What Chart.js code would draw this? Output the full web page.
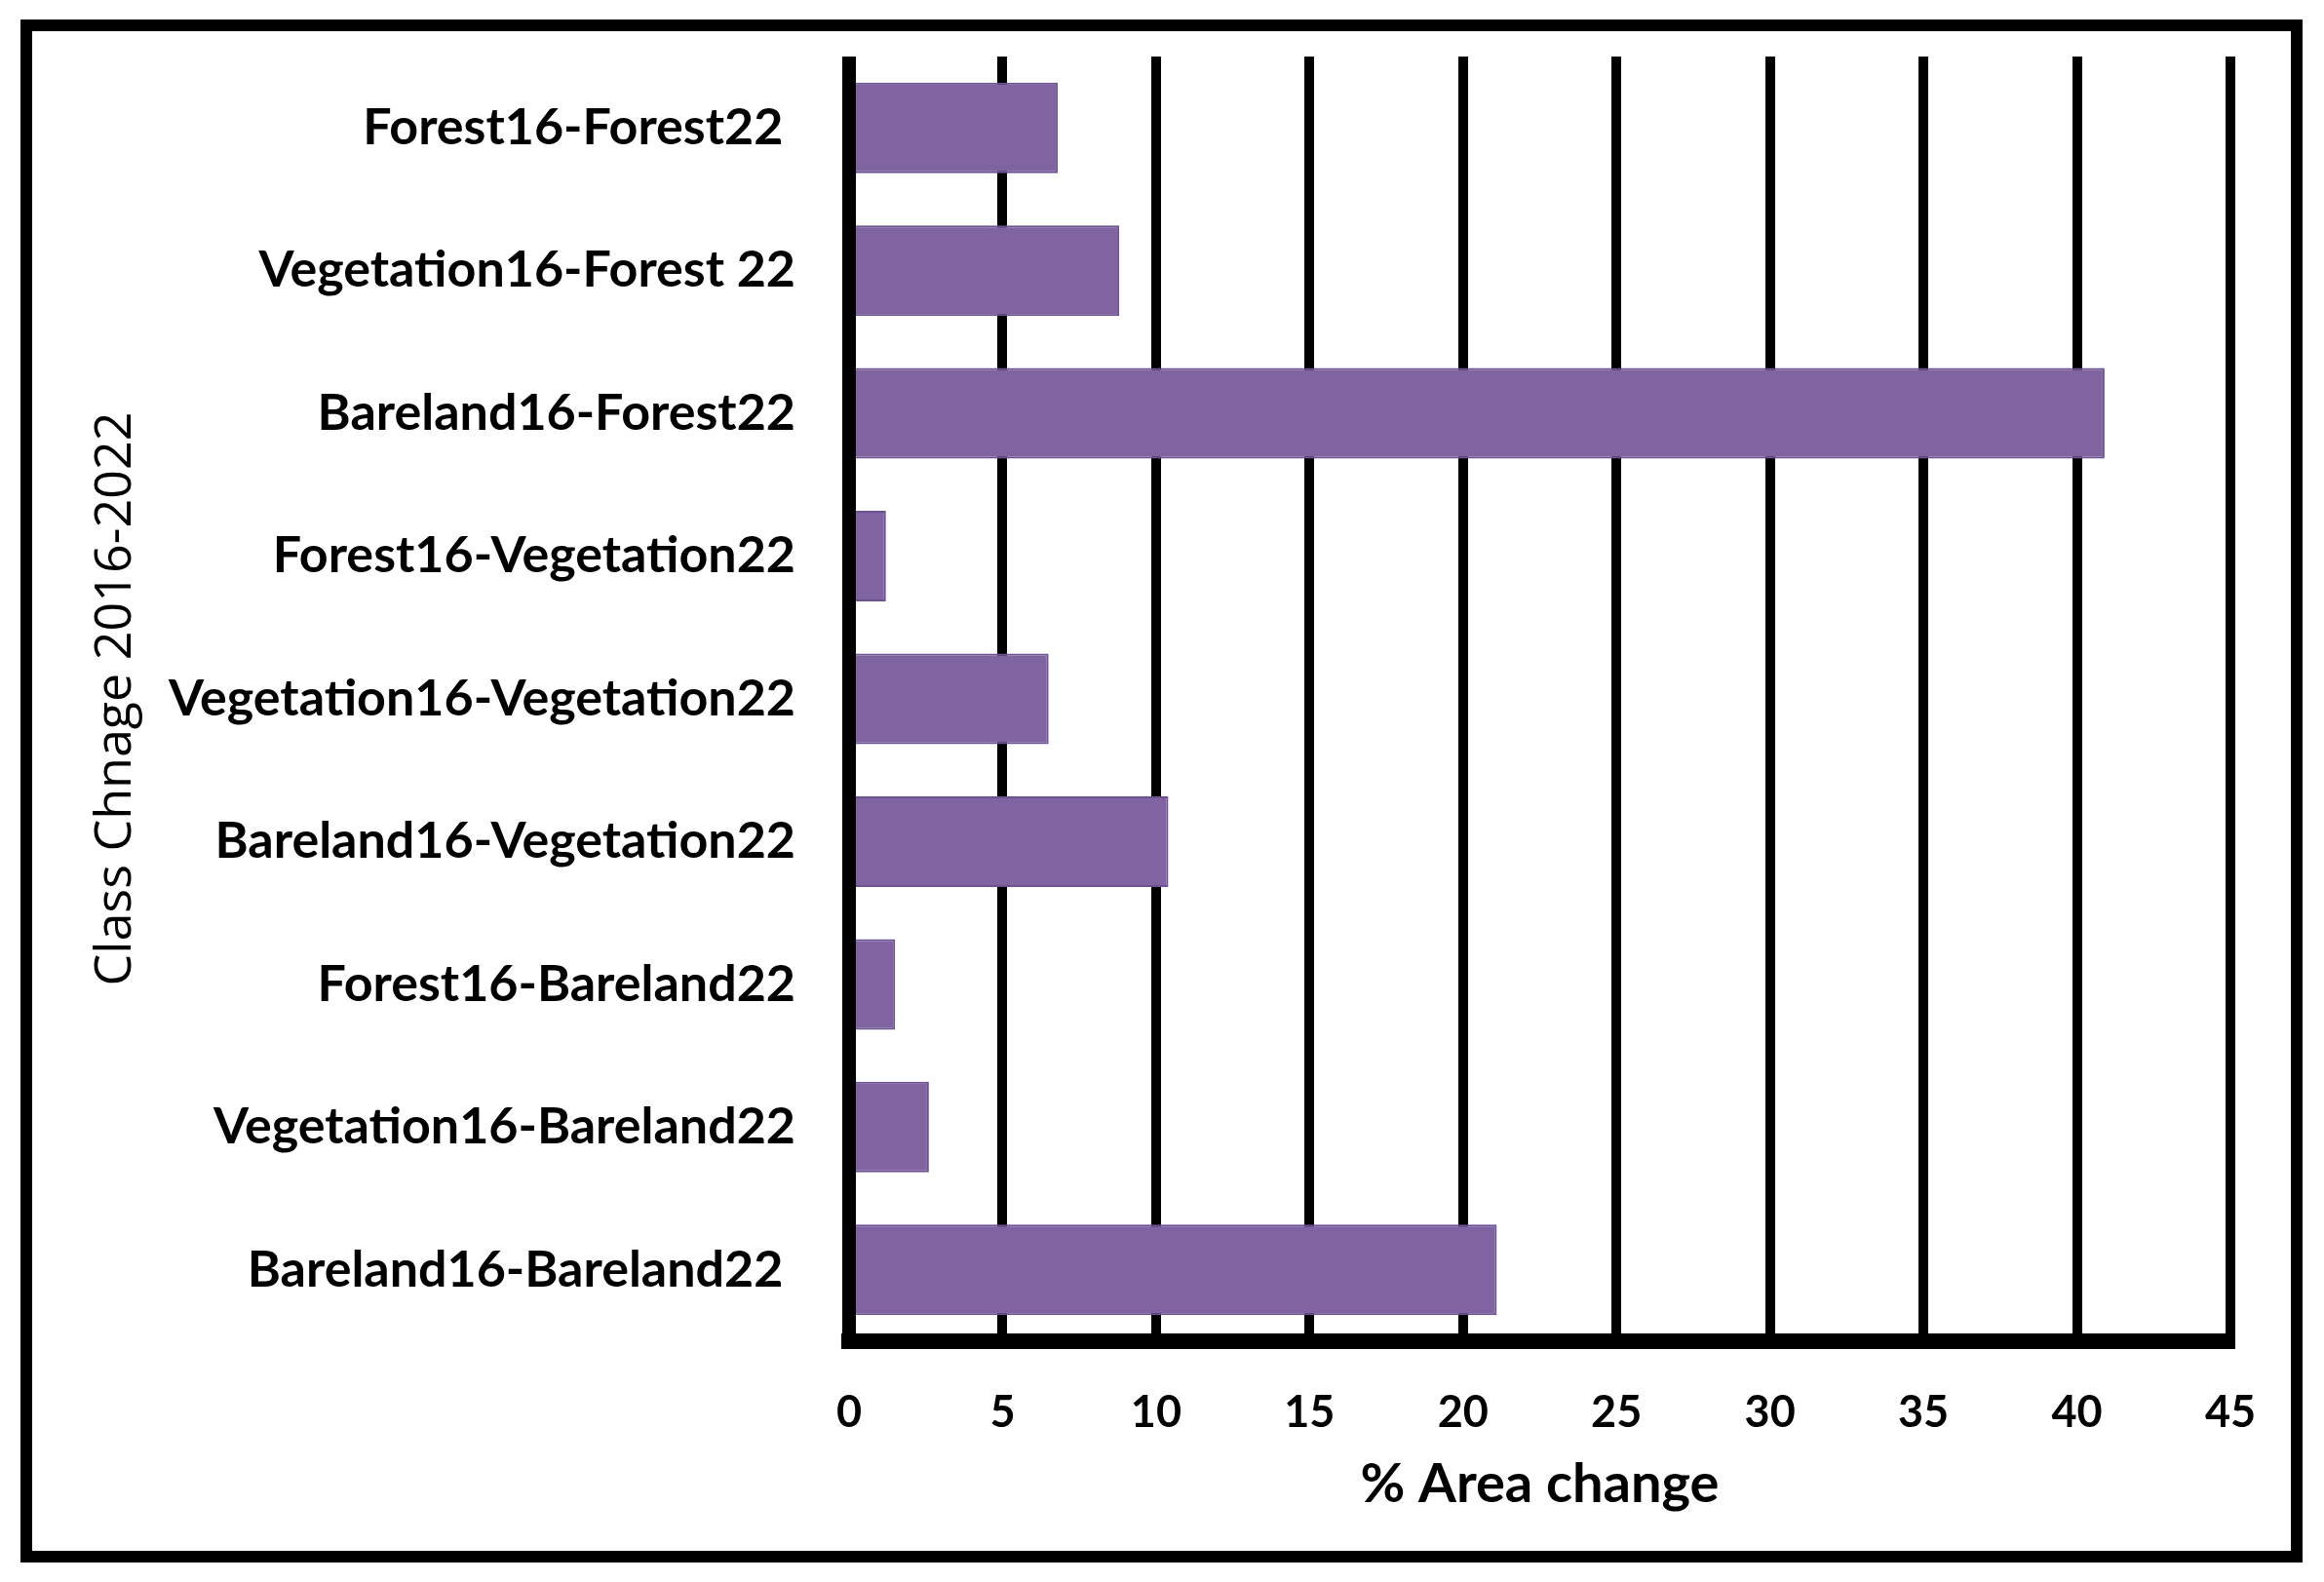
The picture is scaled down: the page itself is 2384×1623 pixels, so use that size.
<!DOCTYPE html>
<html>
<head>
<meta charset="utf-8">
<script src="https://cdn.jsdelivr.net/npm/chart.js@4"></script>
<style>
  html, body { margin: 0; padding: 0; background: #ffffff; }
  #wrap { position: relative; width: 2384px; height: 1623px; }
  #moldura {
    position: absolute; left: 21px; top: 20px; width: 2341px; height: 1583px;
    box-sizing: border-box; border: 12px solid #000000;
  }
  canvas { position: absolute; left: 0; top: 0; }
</style>
</head>
<body>
<div id="wrap">
  <div id="moldura"></div>
  <canvas id="grafico" width="2384" height="1623"></canvas>
</div>
<script>

  // dados
  var categorias = [
    'Forest16-Forest22 ',
    'Vegetation16-Forest 22',
    'Bareland16-Forest22',
    'Forest16-Vegetation22',
    'Vegetation16-Vegetation22',
    'Bareland16-Vegetation22',
    'Forest16-Bareland22',
    'Vegetation16-Bareland22',
    'Bareland16-Bareland22 '
  ]
  var areaChange = [6.8, 8.8, 40.9, 1.2, 6.5, 10.4, 1.5, 2.6, 21.1]
  var ticksX = [0, 5, 10, 15, 20, 25, 30, 35, 40, 45]

  var tituloX = '% Area change'
  var tituloY = 'Class Chnage 2016-2022'

  // redesenha o eixo da esquerda por cima das barras
  var eixoEsquerda = {
    id: 'eixoEsquerda',
    afterDatasetsDraw: function (chart) {
      var ctx = chart.ctx
      var x = chart.scales.x.getPixelForValue(ticksX[0])
      ctx.save()
      ctx.strokeStyle = '#000000'
      ctx.lineWidth = 14
      ctx.beginPath()
      ctx.moveTo(x, chart.chartArea.top)
      ctx.lineTo(x, chart.chartArea.bottom)
      ctx.stroke()
      ctx.restore()
    }
  }

  const data = {
    labels: categorias,
    datasets: [{
      label: tituloX,
      data: areaChange,
      backgroundColor: '#8064a2',
      borderColor: '#6b5290',
      borderWidth: 2,
      borderSkipped: 'left',
      barPercentage: 0.635,
      categoryPercentage: 1
    }]
  }

  const config = {
    type: 'bar',
    data,
    plugins: [eixoEsquerda],
    options: {
      indexAxis: 'y',
      responsive: false,
      animation: false,
      layout: { padding: { left: 0, top: 58, right: 96, bottom: 0 } },
      plugins: {
        legend: { display: false },
        tooltip: { enabled: false }
      },
      scales: {
        x: {
          min: ticksX[0],
          max: ticksX[ticksX.length - 1],
          afterBuildTicks: function (scale) {
            scale.ticks = ticksX.map(function (v) { return { value: v } })
          },
          afterFit: function (scale) {
            scale.height = 247
            scale.paddingLeft = 0
            scale.paddingRight = 0
          },
          grid: { color: '#000000', lineWidth: 10, drawTicks: false },
          border: { color: '#000000', width: 16 },
          ticks: {
            color: '#000000',
            padding: 46,
            font: { family: 'Lato', weight: 'bold', size: 45 }
          },
          title: {
            display: true,
            text: tituloX,
            color: '#000000',
            padding: { top: 0, bottom: 66 },
            font: { family: 'Lato', weight: 'bold', size: 56 }
          }
        },
        y: {
          afterFit: function (scale) {
            scale.width = 871
            scale.paddingTop = 0
            scale.paddingBottom = 0
          },
          grid: { display: false, drawTicks: false },
          border: { display: false },
          ticks: {
            color: '#000000',
            padding: 55,
            font: { family: 'Lato', weight: 'bold', size: 52 }
          },
          title: {
            display: true,
            text: tituloY,
            color: '#000000',
            padding: { top: 88, bottom: 0 },
            font: { family: 'Open Sans', weight: 'normal', size: 52 }
          }
        }
      }
    }
  }

  const meuGrafico = new Chart(
    document.getElementById('grafico'),
    config
  )

</script>
</body>
</html>
